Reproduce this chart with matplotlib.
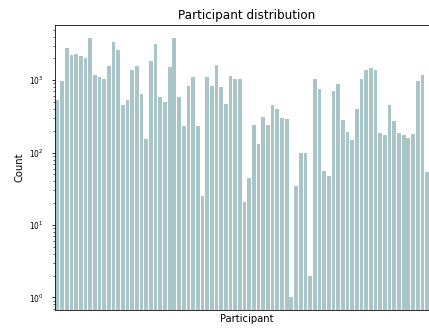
import matplotlib
matplotlib.use("Agg")
import matplotlib.pyplot as plt
import numpy as np

participants = [f"P{i+1:02d}" for i in range(80)]
counts = [527, 966, 2770, 2190, 2320, 2180, 2020, 3770, 1170, 1090,
          1040, 1550, 3360, 2640, 455, 523, 1400, 1550, 635, 152,
          1820, 3160, 585, 492, 1500, 3800, 585, 232, 824, 1110,
          232, 24.7, 1110, 824, 1600, 807, 467, 1130, 1050, 1040,
          20.5, 43.8, 243, 131, 306, 243, 446, 394, 296, 287,
          1, 35, 98, 98, 2, 1030, 758, 55, 47, 710,
          876, 281, 195, 149, 405, 1030, 1370, 1470, 1370, 184,
          172, 455, 272, 187, 172, 160, 180, 966, 1170, 53.5]

W, H = 429, 329
dpi = 72
fig = plt.figure(figsize=(W / dpi, H / dpi), dpi=dpi)
slot = 4.68
ax = fig.add_axes([55 / W, 19 / H, 82 * slot / W, 285 / H])

x = np.arange(len(participants))
ax.bar(x, counts, width=0.8, color="#a9c5c8")
ax.set_yscale("log")
ax.set_ylim(0.668, 5770)
ax.set_xlim(-0.5, 81.5)
ax.set_xticks([])
ax.tick_params(axis="y", which="major", labelsize=7.5, pad=8)
ax.set_title("Participant distribution")
ax.set_xlabel("Participant")
ax.set_ylabel("Count")

fig.savefig("out.png", dpi=dpi)
